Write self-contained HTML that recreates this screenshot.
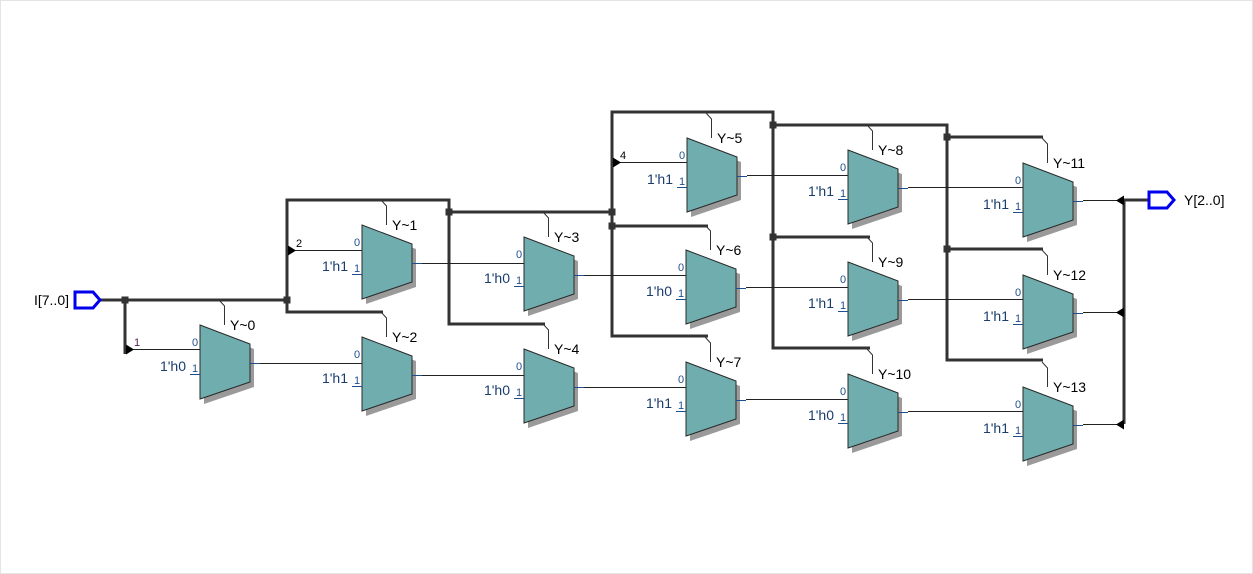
<!DOCTYPE html>
<html><head><meta charset="utf-8"><style>
html,body{margin:0;padding:0;background:#fff}
svg{display:block}
.s{font:11px "Liberation Sans",sans-serif;fill:#1f4e8c}
.c{font:14px "Liberation Sans",sans-serif;fill:#1a3d6e;text-anchor:end}
.l{font:14px "Liberation Sans",sans-serif;fill:#000}
.n{font:11px "Liberation Sans",sans-serif;fill:#000}
</style></head><body>
<svg width="1253" height="574" viewBox="0 0 1253 574" xmlns="http://www.w3.org/2000/svg">
<rect x="0.5" y="0.5" width="1252" height="573" fill="#fff" stroke="#e4e4e4"/>
<defs>
<g id="m">
<polygon points="4,5 54,24 54,62 4,79" fill="#9a9a9a"/>
<polygon points="0,0 50,19 50,57 0,74" fill="#6fadae" stroke="#2a2a2a" stroke-width="1"/>
<line x1="-10" y1="49.5" x2="0" y2="49.5" stroke="#1f4e8c"/>
<line x1="50" y1="38.5" x2="60" y2="38.5" stroke="#1f4e8c"/>
<polyline points="24.5,0 24.5,-19 19,-25" fill="none" stroke="#333" stroke-width="1"/>
</g>
<polygon id="a" points="0,-5 8,0 0,5" fill="#000"/>
<polygon id="b" points="0,-5 -8,0 0,5" fill="#000"/>
<rect id="j" x="-3.5" y="-3.5" width="7" height="7" fill="#333"/>
</defs>

<g fill="none" stroke="#333" stroke-width="3">
<polyline points="100,300 287,300"/>
<polyline points="125,300 125,354"/>
<polyline points="287,300 287,200 449,200 449,324 545,324"/>
<polyline points="287,300 287,312 383,312"/>
<polyline points="449,212 612,212"/>
<polyline points="612,212 612,112 773,112 773,348 870,348"/>
<polyline points="612,212 612,336 708,336"/>
<polyline points="612,226 708,226"/>
<polyline points="773,125 947,125 947,360 1043,360"/>
<polyline points="773,237 870,237"/>
<polyline points="947,137 1043,137"/>
<polyline points="947,249 1043,249"/>
<polyline points="1124,200 1124,424"/>
<polyline points="1124,200 1148,200"/>
</g>
<g>
<use href="#j" x="125" y="300"/><use href="#j" x="287" y="300"/><use href="#j" x="449" y="212"/>
<use href="#j" x="612" y="212"/><use href="#j" x="612" y="226"/><use href="#j" x="773" y="125"/>
<use href="#j" x="773" y="237"/><use href="#j" x="947" y="137"/><use href="#j" x="947" y="249"/>
</g>

<g stroke="#222" stroke-width="1">
<line x1="125" y1="349.5" x2="200" y2="349.5"/>
<line x1="287" y1="250.5" x2="362" y2="250.5"/>
<line x1="612" y1="162.5" x2="687" y2="162.5"/>
<line x1="260" y1="363.5" x2="362" y2="363.5"/>
<line x1="422" y1="263.5" x2="524" y2="263.5"/>
<line x1="422" y1="375.5" x2="524" y2="375.5"/>
<line x1="584" y1="275.5" x2="686" y2="275.5"/>
<line x1="584" y1="387.5" x2="686" y2="387.5"/>
<line x1="747" y1="175.5" x2="848" y2="175.5"/>
<line x1="746" y1="287.5" x2="848" y2="287.5"/>
<line x1="746" y1="399.5" x2="848" y2="399.5"/>
<line x1="908" y1="187.5" x2="1023" y2="187.5"/>
<line x1="908" y1="299.5" x2="1023" y2="299.5"/>
<line x1="908" y1="411.5" x2="1023" y2="411.5"/>
<line x1="1083" y1="200.5" x2="1122" y2="200.5"/>
<line x1="1083" y1="312.5" x2="1122" y2="312.5"/>
<line x1="1083" y1="424.5" x2="1122" y2="424.5"/>
</g>
<use href="#a" x="126" y="349.5"/><use href="#a" x="288" y="250.5"/><use href="#a" x="613" y="162.5"/>
<use href="#b" x="1124" y="200.5"/><use href="#b" x="1124" y="312.5"/><use href="#b" x="1124" y="424.5"/>
<text x="134" y="346" class="n" style="fill:#5a1a5a">1</text>
<text x="296" y="247" class="n">2</text>
<text x="620" y="159" class="n">4</text>

<polygon points="75,292 93,292 100,300 93,308 75,308" fill="#fff" stroke="#0000ee" stroke-width="3"/>
<text x="69" y="305" class="l" text-anchor="end">I[7..0]</text>
<polygon points="1149,192 1167,192 1174,200 1167,208 1149,208" fill="#fff" stroke="#0000ee" stroke-width="3"/>
<text x="1184" y="205" class="l">Y[2..0]</text>

<g transform="translate(200,325)"><use href="#m"/><text x="-8" y="21" class="s">0</text><text x="-8" y="47" class="s">1</text><text x="-14" y="46" class="c">1'h0</text><text x="30" y="5" class="l">Y~0</text></g>
<g transform="translate(362,225)"><use href="#m"/><text x="-8" y="21" class="s">0</text><text x="-8" y="47" class="s">1</text><text x="-14" y="46" class="c">1'h1</text><text x="30" y="5" class="l">Y~1</text></g>
<g transform="translate(362,337)"><use href="#m"/><text x="-8" y="21" class="s">0</text><text x="-8" y="47" class="s">1</text><text x="-14" y="46" class="c">1'h1</text><text x="30" y="5" class="l">Y~2</text></g>
<g transform="translate(524,237)"><use href="#m"/><text x="-8" y="21" class="s">0</text><text x="-8" y="47" class="s">1</text><text x="-14" y="46" class="c">1'h0</text><text x="30" y="5" class="l">Y~3</text></g>
<g transform="translate(524,349)"><use href="#m"/><text x="-8" y="21" class="s">0</text><text x="-8" y="47" class="s">1</text><text x="-14" y="46" class="c">1'h0</text><text x="30" y="5" class="l">Y~4</text></g>
<g transform="translate(687,138)"><use href="#m"/><text x="-8" y="21" class="s">0</text><text x="-8" y="47" class="s">1</text><text x="-14" y="46" class="c">1'h1</text><text x="30" y="5" class="l">Y~5</text></g>
<g transform="translate(686,250)"><use href="#m"/><text x="-8" y="21" class="s">0</text><text x="-8" y="47" class="s">1</text><text x="-14" y="46" class="c">1'h0</text><text x="30" y="5" class="l">Y~6</text></g>
<g transform="translate(686,362)"><use href="#m"/><text x="-8" y="21" class="s">0</text><text x="-8" y="47" class="s">1</text><text x="-14" y="46" class="c">1'h1</text><text x="30" y="5" class="l">Y~7</text></g>
<g transform="translate(848,150)"><use href="#m"/><text x="-8" y="21" class="s">0</text><text x="-8" y="47" class="s">1</text><text x="-14" y="46" class="c">1'h1</text><text x="30" y="5" class="l">Y~8</text></g>
<g transform="translate(848,262)"><use href="#m"/><text x="-8" y="21" class="s">0</text><text x="-8" y="47" class="s">1</text><text x="-14" y="46" class="c">1'h1</text><text x="30" y="5" class="l">Y~9</text></g>
<g transform="translate(848,374)"><use href="#m"/><text x="-8" y="21" class="s">0</text><text x="-8" y="47" class="s">1</text><text x="-14" y="46" class="c">1'h0</text><text x="30" y="5" class="l">Y~10</text></g>
<g transform="translate(1023,163)"><use href="#m"/><text x="-8" y="21" class="s">0</text><text x="-8" y="47" class="s">1</text><text x="-14" y="46" class="c">1'h1</text><text x="30" y="5" class="l">Y~11</text></g>
<g transform="translate(1023,275)"><use href="#m"/><text x="-8" y="21" class="s">0</text><text x="-8" y="47" class="s">1</text><text x="-14" y="46" class="c">1'h1</text><text x="30" y="5" class="l">Y~12</text></g>
<g transform="translate(1023,387)"><use href="#m"/><text x="-8" y="21" class="s">0</text><text x="-8" y="47" class="s">1</text><text x="-14" y="46" class="c">1'h1</text><text x="30" y="5" class="l">Y~13</text></g>
</svg>
</body></html>
